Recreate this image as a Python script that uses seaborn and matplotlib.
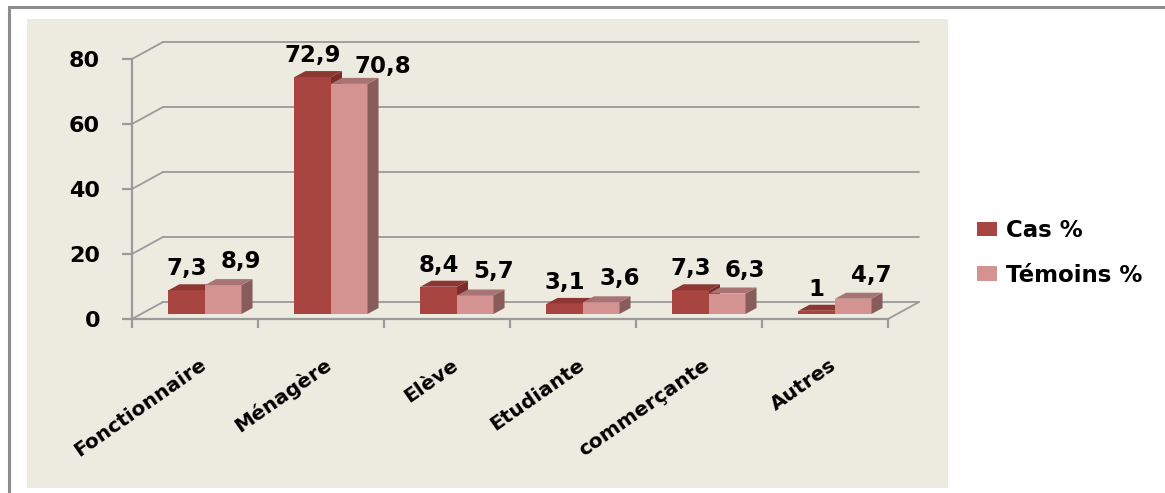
import numpy as np
import pandas as pd
import matplotlib
matplotlib.use("Agg")
import matplotlib.pyplot as plt
import seaborn as sns
from matplotlib.patches import Rectangle, Polygon, Patch
from matplotlib.lines import Line2D
from matplotlib.transforms import ScaledTranslation, IdentityTransform

# ---- data ----
categories = ["Fonctionnaire", "Ménagère", "Elève", "Etudiante", "commerçante", "Autres"]
series_names = ["Cas %", "Témoins %"]
cas_values = [7.3, 72.9, 8.4, 3.1, 7.3, 1.0]
temoins_values = [8.9, 70.8, 5.7, 3.6, 6.3, 4.7]
cas_labels = ["7,3", "72,9", "8,4", "3,1", "7,3", "1"]
temoins_labels = ["8,9", "70,8", "5,7", "3,6", "6,3", "4,7"]
y_ticks = [0, 20, 40, 60, 80]

df = pd.DataFrame({
    "cat": categories * 2,
    "serie": [series_names[0]] * len(categories) + [series_names[1]] * len(categories),
    "val": cas_values + temoins_values,
})

W, H, DPI = 1165, 493, 100
sns.set_theme(style="white")
plt.rcParams["font.family"] = ["DejaVu Sans"]
plt.rcParams["font.weight"] = "bold"
plt.rcParams["text.color"] = "black"
plt.rcParams["ytick.color"] = "black"

FS_VAL = 16.5
FS_TICK = 16
FS_CAT = 14.5
FS_LEG = 16.5
PT = 72 / DPI  # points per pixel

fig = plt.figure(figsize=(W / DPI, H / DPI), dpi=DPI)
fig.patch.set_facecolor("white")

def fx(px):
    return px / W

def fy(py):
    return 1 - py / H

# decoration: outer frame and beige chart area
fig.patches.append(Rectangle((fx(9), fy(H + 5)), fx(W + 10), (H - 2) / H, transform=fig.transFigure,
                             facecolor="none", edgecolor="#8c8c8c", lw=2.2, zorder=-2))
fig.patches.append(Rectangle((fx(27), fy(488)), fx(948 - 27), (488 - 19) / H, transform=fig.transFigure,
                             facecolor="#edeae0", edgecolor="none", zorder=-1))

ax = fig.add_axes([fx(132), fy(319), fx(888 - 132), (319 - 59) / H])
ax.patch.set_visible(False)
ax.set_zorder(1)

cas_col = "#a94541"
tem_col = "#d49291"
cas_side, cas_top = "#7b2d2a", "#8e3632"
tem_side, tem_top = "#875c5b", "#a87474"

sns.barplot(data=df, x="cat", y="val", hue="serie", order=categories, hue_order=series_names,
            palette=[cas_col, tem_col], width=0.58, saturation=1, legend=False, ax=ax)
ax.set_xlim(-0.5, len(categories) - 0.5)
ax.set_ylim(0, 80)

grid_col = "#9a9a9a"
BACK = np.array([31.0, 17.0])
FRONT = np.array([10.0, 5.0])
depth = np.array([11.0, 6.0])
back = ScaledTranslation(BACK[0] / DPI, BACK[1] / DPI, fig.dpi_scale_trans)
front_off = ScaledTranslation(FRONT[0] / DPI, FRONT[1] / DPI, fig.dpi_scale_trans)

fig.canvas.draw()
xmin, xmax = ax.get_xlim()
idt = IdentityTransform()

# back wall gridlines + left diagonals + floor edge
for v in y_ticks:
    ax.plot([xmin, xmax], [v, v], transform=ax.transData + back, color=grid_col, lw=1.3,
            clip_on=False, zorder=1)
    p0 = ax.transData.transform((xmin, v))
    p1 = p0 + BACK
    ax.add_line(Line2D([p0[0], p1[0]], [p0[1], p1[1]], transform=idt, color=grid_col, lw=1.3,
                       zorder=1, clip_on=False))
q0 = ax.transData.transform((xmax, 0))
q1 = q0 + BACK
ax.add_line(Line2D([q0[0], q1[0]], [q0[1], q1[1]], transform=idt, color=grid_col, lw=1.3,
                   zorder=1, clip_on=False))

# 3D bars
bars = list(ax.patches)
nser = len(series_names)
ncat = len(categories)
renderer = fig.canvas.get_renderer()
z = 3
for ci in range(ncat):
    prev_label = None
    for si in range(nser):
        p = bars[si * ncat + ci]
        x0, w, h = p.get_x(), p.get_width(), p.get_height()
        p.set_transform(ax.transData + front_off)
        p.set_edgecolor("none")
        p.set_zorder(z)
        fb = ax.transData.transform((x0 + w, 0)) + FRONT
        ft = ax.transData.transform((x0 + w, h)) + FRONT
        lt = ax.transData.transform((x0, h)) + FRONT
        sc = cas_side if si == 0 else tem_side
        tc = cas_top if si == 0 else tem_top
        ax.add_patch(Polygon([fb, ft, ft + depth, fb + depth], closed=True, transform=idt,
                             facecolor=sc, edgecolor="none", zorder=z + 0.1, clip_on=False))
        ax.add_patch(Polygon([lt, ft, ft + depth, lt + depth], closed=True, transform=idt,
                             facecolor=tc, edgecolor="none", zorder=z + 0.2, clip_on=False))
        lab = cas_labels[ci] if si == 0 else temoins_labels[ci]
        dx = 0 if si == 0 else 18
        dy = 15 if si == 0 else 17
        t = ax.annotate(lab, xy=(x0 + w / 2, h), xycoords="data",
                        xytext=((FRONT[0] + dx) * PT, (FRONT[1] + dy) * PT), textcoords="offset points",
                        ha="center", va="baseline", fontsize=FS_VAL, fontweight="bold", color="black",
                        zorder=20, annotation_clip=False)
        if prev_label is not None:
            bb_prev = prev_label.get_window_extent(renderer)
            bb = t.get_window_extent(renderer)
            if bb.overlaps(bb_prev) or (bb.x0 < bb_prev.x1 + 10 and bb.y0 < bb_prev.y1 + 4):
                shift = bb_prev.x1 + 14 - bb.x0
                t.set_position(((FRONT[0] + dx + shift) * PT, (FRONT[1] + dy - 6) * PT))
        prev_label = t
        z += 1

# axes styling
for s in ["top", "right"]:
    ax.spines[s].set_visible(False)
for s in ["left", "bottom"]:
    ax.spines[s].set_color(grid_col)
    ax.spines[s].set_linewidth(1.6)
    ax.spines[s].set_zorder(2)
ax.set_yticks(y_ticks)
ax.set_yticklabels([str(v) for v in y_ticks], fontsize=FS_TICK, fontweight="bold", color="black")
ax.tick_params(axis="y", left=True, length=10 * PT, width=1.6, color=grid_col, pad=22 * PT)
ax.set_xticks(np.arange(ncat))
ax.set_xticklabels([])
ax.set_xticks(np.arange(ncat + 1) - 0.5, minor=True)
ax.tick_params(axis="x", which="major", bottom=False, length=0)
ax.tick_params(axis="x", which="minor", bottom=True, length=9 * PT, width=1.6, color=grid_col)
ax.set_xlabel("")
ax.set_ylabel("")

for i, c in enumerate(categories):
    ax.annotate(c, xy=(i, 0), xycoords="data", xytext=(9 * PT, -44 * PT),
                textcoords="offset points", rotation=35, rotation_mode="anchor",
                ha="right", va="center", fontsize=FS_CAT, fontweight="bold", color="black",
                annotation_clip=False)

handles = [Patch(facecolor=cas_col, edgecolor="none"), Patch(facecolor=tem_col, edgecolor="none")]
leg = fig.legend(handles, series_names, loc="center left", bbox_to_anchor=(fx(966), fy(253)),
                 frameon=False, handlelength=0.85, handleheight=0.62, handletextpad=0.4,
                 borderpad=0, labelspacing=0.95, prop={"weight": "bold", "size": FS_LEG})
for t in leg.get_texts():
    t.set_color("black")

fig.savefig("out.png", dpi=DPI)
